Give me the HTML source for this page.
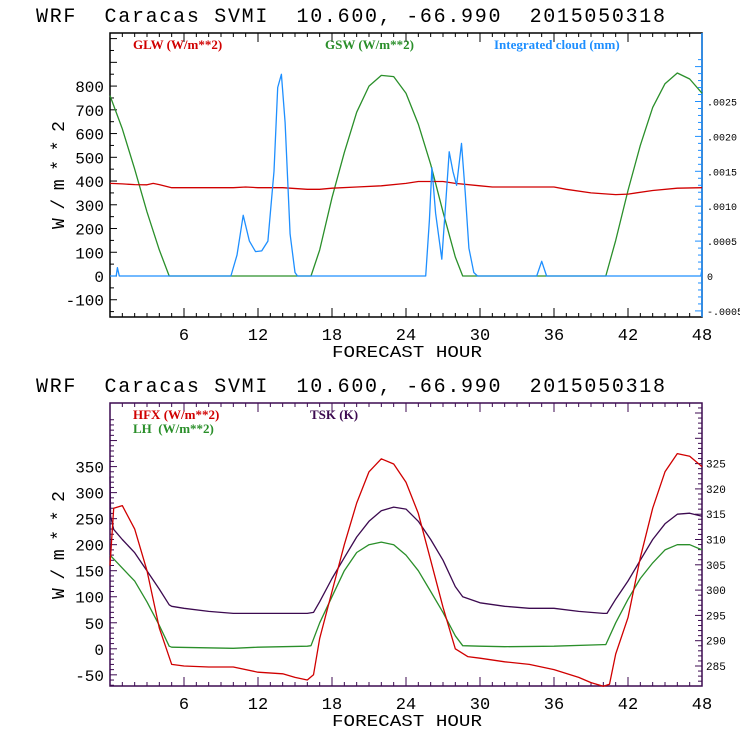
<!DOCTYPE html>
<html><head><meta charset="utf-8"><style>
body{margin:0;background:#fff;width:740px;height:740px;overflow:hidden}
svg{display:block}
text{font-family:"Liberation Mono","DejaVu Sans Mono",monospace;white-space:pre}
text.leg{font-family:"Liberation Serif",serif;font-weight:bold}
</style></head><body>
<svg id="chart" width="740" height="740" viewBox="0 0 740 740" xmlns="http://www.w3.org/2000/svg"></svg>
<script>
// ---- Top chart data ----
const glwHours = [0,1,2,3,3.5,4,5,8,10,11,12,14,16,17,18,20,22,24,25,27,28,30,31,36,37,39,41,42,44,46,48];
const glwValues = [390,388,385,384,390,385,372,372,372,375,372,372,365,365,370,375,380,390,398,398,390,380,375,375,365,350,343,345,360,370,372];
const gswHours = [0,1,2,3,4,4.8,16.3,17,18,19,20,21,22,23,24,25,26,27,28,28.6,40.2,41,42,43,44,45,46,47,48];
const gswValues = [760,620,450,270,110,0,0,110,330,520,690,800,845,840,770,640,470,270,80,0,0,150,360,550,710,810,855,830,770];
const cloudHours = [0,0.5,0.6,0.75,9.8,10.3,10.8,11.3,11.8,12.3,12.8,13.3,13.6,13.9,14.2,14.6,15.0,15.2,25.6,25.9,26.1,26.4,26.9,27.2,27.5,27.8,28.1,28.5,28.8,29.1,29.5,29.8,34.6,35,35.4,47.9,48];
const cloudValues = [0,0,0.00012,0,0,0.0003,0.00087,0.0005,0.00035,0.00036,0.0005,0.0015,0.0027,0.00289,0.0022,0.0006,0.00005,0,0,0.0008,0.00155,0.0009,0.00024,0.001,0.00178,0.0015,0.0013,0.0019,0.0012,0.0004,0.00005,0,0,0.00021,0,0,0.0001];
const topLeftTicks = [-100,0,100,200,300,400,500,600,700,800];
const topRightTicks = [-0.0005,0,0.0005,0.001,0.0015,0.002,0.0025];
const topRightLabels = ["-.0005","0",".0005",".0010",".0015",".0020",".0025"];
// ---- Bottom chart data ----
const hfxHours = [0,0.3,1,2,3,4,5,6,8,10,12,14,15,16,16.5,17,18,19,20,21,22,23,24,25,26,27,28,29,30,32,34,36,38,39,40,40.5,41,42,43,44,45,46,47,48];
const hfxValues = [160,270,275,230,150,40,-30,-33,-35,-35,-45,-48,-55,-60,-50,20,110,200,280,340,365,355,320,260,170,80,0,-15,-18,-25,-30,-40,-55,-65,-72,-68,-10,60,175,270,340,375,370,350];
const lhHours = [0,1,2,3,4,4.8,5,10,12,16,16.3,17,18,19,20,21,22,23,24,25,26,27,28,28.6,30,32,36,40,40.2,41,42,43,44,45,46,47,48];
const lhValues = [180,155,130,90,45,5,3,1,3,5,6,50,100,150,185,200,205,200,180,150,110,70,25,6,5,4,5,8,8,50,95,135,165,190,200,200,190];
const tskHours = [0,0.05,0.3,1,2,3,4,4.8,5,6,8,10,12,14,16,16.5,17,18,19,20,21,22,23,24,25,26,27,28,28.6,30,32,34,36,38,40,40.3,41,42,43,44,45,46,47,48];
const tskValues = [322.4,314.6,312,310.0,307.4,303.8,300.2,297.1,296.8,296.4,295.8,295.4,295.4,295.4,295.4,295.6,297.7,302.3,306.4,310.5,313.6,315.7,316.4,316.0,313.6,310.0,305.9,300.7,298.7,297.5,296.8,296.4,296.4,295.8,295.4,295.4,298.2,301.8,305.9,310.0,313.1,315.0,315.2,314.6];
const botLeftTicks = [-50,0,50,100,150,200,250,300,350];
const botRightTicks = [285,290,295,300,305,310,315,320,325];
const xTicks = [6,12,18,24,30,36,42,48];

const NS="http://www.w3.org/2000/svg";
const svg=document.getElementById('chart');
function mk(tag,attrs,parent){const e=document.createElementNS(NS,tag);for(const k in attrs)e.setAttribute(k,attrs[k]);(parent||svg).appendChild(e);return e;}
const X0=110,X1=702;
const xs=h=>X0+(X1-X0)*h/48;

function frame(g,top,bot,col){
  const r=mk('rect',{x:X0,y:top,width:X1-X0,height:bot-top,fill:'none',stroke:col,'stroke-width':1.5},g);
  
  
  for(let h=1;h<48;h++){
    const L=(h%6===0)?9:4;
    const t1=mk('line',{x1:xs(h),x2:xs(h),y1:bot,y2:bot-L,stroke:col,'stroke-width':1},g);
    
    
    const t2=mk('line',{x1:xs(h),x2:xs(h),y1:top,y2:top+L,stroke:col,'stroke-width':1},g);
    
    
  }
  xTicks.forEach(h=>{
    const t=mk('text',{x:xs(h),y:bot+23,'font-size':17,'text-anchor':'middle',fill:'#000'},g);
    t.textContent=h;
    
    
  });
  const xl=mk('text',{x:332,y:bot+40,'font-size':17,fill:'#000',textLength:150,lengthAdjust:'spacingAndGlyphs'},g);
  xl.textContent='FORECAST HOUR';
  
  
}
function title(g,y){
  const t=mk('text',{x:36,y:y,'font-size':20,fill:'#000',textLength:629,lengthAdjust:'spacing'},g);
  t.textContent='WRF  Caracas SVMI  10.600, -66.990  2015050318';
  
  
}
function ylabel(g,cy){
  const t=mk('text',{x:0,y:0,'font-size':18,'text-anchor':'middle',fill:'#000',textLength:108,lengthAdjust:'spacing',transform:`translate(64,${cy}) rotate(-90)`},g);
  t.textContent='W/m**2';
  
  
}
function line(g,hs,vs,ys,col,name){
  const pts=hs.map((h,i)=>xs(h).toFixed(1)+','+ys(vs[i]).toFixed(1)).join(' ');
  const p=mk('polyline',{points:pts,fill:'none',stroke:col,'stroke-width':1.3,'stroke-linejoin':'round'},g);
  
  
}
function legend(g,x,y,txt,col,name){
  const t=mk('text',{x:x,y:y,'font-size':13,fill:col,'class':'leg'},g);
  t.textContent=txt;
  
  
}

// ---- Top chart ----
const gt=mk('g',{});


const T0=33,TB=317;
const yT=v=>276-v*0.2374;
const yTR=v=>276-v*(34.9/0.0005);
title(gt,22);
frame(gt,T0,TB,'#000');
const rb=mk('line',{x1:X1,x2:X1,y1:T0,y2:TB,stroke:'#1e8fff','stroke-width':1.5},gt);


for(let v=-150;v<=1000;v+=50){
  if(yT(v)<T0||yT(v)>TB)continue;
  const L=(v%100===0)?7:4;
  const t=mk('line',{x1:X0,x2:X0+L,y1:yT(v),y2:yT(v),stroke:'#000'},gt);
  
  
}
topLeftTicks.forEach(v=>{
  const t=mk('text',{x:X0-6,y:yT(v)+6,'font-size':16,'text-anchor':'end',fill:'#000'},gt);
  t.textContent=v;
  
  
});
for(let v=-0.001;v<=0.0031;v+=0.0001){
  const yy=yTR(v); if(yy<T0||yy>TB)continue;
  const major=Math.abs(Math.round(v*10000)%5)===0;
  const t=mk('line',{x1:X1,x2:X1-(major?7:4),y1:yy,y2:yy,stroke:'#1e8fff'},gt);
  
  
}
topRightTicks.forEach((v,i)=>{
  const t=mk('text',{x:X1+5,y:yTR(v)+4,'font-size':10,fill:'#000'},gt);
  t.textContent=topRightLabels[i];
  
  
});
ylabel(gt,175);
line(gt,gswHours,gswValues,yT,'#2a8f2a','gsw-line');
line(gt,glwHours,glwValues,yT,'#d00000','glw-line');
line(gt,cloudHours,cloudValues,yTR,'#1e8fff','cloud-line');
legend(gt,133,49,'GLW (W/m**2)','#d00000','legend-glw');
legend(gt,325,49,'GSW (W/m**2)','#2a8f2a','legend-gsw');
legend(gt,494,49,'Integrated cloud (mm)','#1e8fff','legend-cloud');

// ---- Bottom chart ----
const gb=mk('g',{});


const B0=403,BB=686;
const yB=v=>648.8-v*0.5206;
const yBR=k=>463.6+(325-k)*5.06;
title(gb,392);
frame(gb,B0,BB,'#3c0a50');
for(let v=-70;v<=440;v+=10){
  const yy=yB(v); if(yy<B0||yy>BB)continue;
  const L=(v%50===0)?7:4;
  const t=mk('line',{x1:X0,x2:X0+L,y1:yy,y2:yy,stroke:'#3c0a50'},gb);
  
  
}
botLeftTicks.forEach(v=>{
  const t=mk('text',{x:X0-6,y:yB(v)+6,'font-size':16,'text-anchor':'end',fill:'#000'},gb);
  t.textContent=v;
  
  
});
for(let k=280;k<=338;k++){
  const yy=yBR(k); if(yy<B0||yy>BB)continue;
  const t=mk('line',{x1:X1,x2:X1-(k%5===0?7:4),y1:yy,y2:yy,stroke:'#3c0a50'},gb);
  
  
}
botRightTicks.forEach(k=>{
  const t=mk('text',{x:X1+4,y:yBR(k)+4,'font-size':11,fill:'#000'},gb);
  t.textContent=k;
  
  
});
ylabel(gb,545);
line(gb,lhHours,lhValues,yB,'#2a8f2a','lh-line');
line(gb,tskHours,tskValues,yBR,'#3c0a50','tsk-line');
line(gb,hfxHours,hfxValues,yB,'#d00000','hfx-line');
legend(gb,133,419,'HFX (W/m**2)','#d00000','legend-hfx');
legend(gb,133,433,'LH  (W/m**2)','#2a8f2a','legend-lh');
legend(gb,310,419,'TSK (K)','#3c0a50','legend-tsk');
</script>
</body></html>
